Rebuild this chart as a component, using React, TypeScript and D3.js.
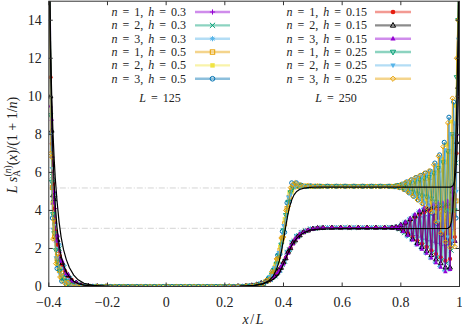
import React from 'react';
import * as d3 from 'd3';

const W = 462;
const H = 329;
const PL = 48.8, PR = 459.5, PT = 1.2, PB = 286.5;
const FONT = "'Liberation Serif', 'DejaVu Serif', serif";
const FS = 14;
const LFS = 12;

const xTicks = [-0.4, -0.2, 0, 0.2, 0.4, 0.6, 0.8, 1];
const xTickLabels = ['−0.4', '−0.2', '0', '0.2', '0.4', '0.6', '0.8', '1'];
const yTicks = [0, 2, 4, 6, 8, 10, 12, 14];
const guideLevels = [5.18, 3.06];

// lattice positions x/L (sampled) for the two system sizes
const xs125 = [
  -0.396, -0.388, -0.38, -0.372, -0.364, -0.356, -0.348, -0.34, -0.328, -0.316, -0.3, -0.28,
  -0.25, -0.22, -0.19, -0.16, -0.13, -0.1, -0.07, -0.04, -0.01, 0.02, 0.05, 0.08, 0.11, 0.14, 0.17, 0.2, 0.23, 0.26,
  0.284, 0.3, 0.316, 0.332, 0.348, 0.356, 0.364, 0.372, 0.38, 0.388, 0.396, 0.404, 0.412, 0.42, 0.428, 0.436, 0.444, 0.452, 0.46, 0.476, 0.492, 0.508, 0.524,
  0.55, 0.58, 0.61, 0.64, 0.67, 0.7, 0.73, 0.76,
  0.78, 0.788, 0.796, 0.804, 0.812, 0.82, 0.828, 0.836, 0.844, 0.852, 0.86, 0.868, 0.876, 0.884, 0.892, 0.9, 0.908, 0.916, 0.924, 0.932, 0.94, 0.948, 0.956, 0.964, 0.972, 0.98, 0.988, 0.996,
];
const xs250 = [
  -0.398, -0.394, -0.39, -0.386, -0.382, -0.376, -0.37, -0.362, -0.354, -0.344, -0.334, -0.322, -0.306, -0.29,
  -0.265, -0.235, -0.205, -0.175, -0.145, -0.115, -0.085, -0.055, -0.025, 0.005, 0.035, 0.065, 0.095, 0.125, 0.155, 0.185, 0.215, 0.245,
  0.272, 0.292, 0.308, 0.324, 0.34, 0.352, 0.36, 0.368, 0.376, 0.384, 0.392, 0.4, 0.408, 0.416, 0.424, 0.432, 0.44, 0.448, 0.456, 0.468, 0.484, 0.5, 0.516, 0.535,
  0.565, 0.595, 0.625, 0.655, 0.685, 0.715, 0.745, 0.77,
  0.784, 0.792, 0.8, 0.808, 0.816, 0.824, 0.832, 0.84, 0.848, 0.856, 0.864, 0.872, 0.88, 0.888, 0.896, 0.904, 0.912, 0.92, 0.928, 0.936, 0.944, 0.952, 0.96, 0.968, 0.976, 0.984, 0.99, 0.995, 0.999,
];

// L = 125
const n1h03 = [
  16, 6.8, 4.1, 2.6, 1.8, 1.25, 0.9, 0.65, 0.4, 0.24, 0.12, 0.05,
  0.02, 0.01, 0, 0, 0, 0, 0, 0, 0, 0, 0, 0, 0, 0, 0, 0, 0.01, 0.02,
  0.04, 0.07, 0.12, 0.2, 0.3, 0.38, 0.48, 0.58, 0.7, 0.88, 1.1, 1.4, 1.75, 2.0, 2.25, 2.45, 2.6, 2.72, 2.82, 2.95, 3.02, 3.06, 3.08,
  3.1, 3.1, 3.1, 3.1, 3.1, 3.1, 3.1, 3.11,
  3.11, 3.07, 3.16, 2.98, 3.27, 2.83, 3.37, 2.77, 3.49, 2.68, 3.61, 2.6, 3.66, 2.49, 3.72, 2.4, 3.77, 2.33, 3.8, 2.27, 3.82, 2.17, 3.9, 2.2, 4.5, 3.0, 8.5, 16,
];
const n2h03 = [
  16, 5.8, 4.6, 2.3, 2.0, 1.05, 1.0, 0.55, 0.43, 0.21, 0.13, 0.05,
  0.02, 0.01, 0, 0, 0, 0, 0, 0, 0, 0, 0, 0, 0, 0, 0, 0, 0.01, 0.02,
  0.04, 0.07, 0.13, 0.19, 0.32, 0.36, 0.51, 0.55, 0.74, 0.83, 1.15, 1.33, 1.8, 1.94, 2.3, 2.4, 2.64, 2.69, 2.85, 2.93, 3.03, 3.05, 3.09,
  3.1, 3.1, 3.11, 3.1, 3.1, 3.11, 3.1, 3.12,
  3.09, 3.14, 3.02, 3.26, 2.82, 3.38, 2.66, 3.54, 2.5, 3.7, 2.36, 3.86, 2.2, 3.96, 2.06, 4.0, 1.8, 4.09, 1.54, 4.12, 1.38, 4.16, 1.22, 4.4, 1.9, 5.5, 6.5, 16,
];
const n3h03 = [
  16, 5.2, 4.9, 2.1, 2.2, 0.95, 1.1, 0.5, 0.46, 0.2, 0.14, 0.05,
  0.02, 0.01, 0, 0, 0, 0, 0, 0, 0, 0, 0, 0, 0, 0, 0, 0, 0.01, 0.02,
  0.04, 0.07, 0.14, 0.18, 0.34, 0.35, 0.53, 0.53, 0.77, 0.8, 1.19, 1.29, 1.84, 1.9, 2.34, 2.37, 2.67, 2.67, 2.87, 2.92, 3.04, 3.05, 3.09,
  3.1, 3.1, 3.1, 3.1, 3.1, 3.1, 3.1, 3.1,
  3.12, 3.05, 3.2, 2.9, 3.38, 2.65, 3.55, 2.45, 3.75, 2.2, 3.95, 2.0, 4.1, 1.75, 4.23, 1.5, 4.32, 1.28, 4.36, 1.05, 4.4, 0.85, 4.5, 0.9, 5.3, 2.8, 8, 16,
];
const n1h05 = [
  16, 5.2, 2.6, 1.45, 0.85, 0.5, 0.3, 0.18, 0.09, 0.04, 0.02, 0.01,
  0, 0, 0, 0, 0, 0, 0, 0, 0, 0, 0, 0, 0, 0, 0, 0, 0, 0,
  0.02, 0.04, 0.08, 0.16, 0.32, 0.47, 0.7, 1.0, 1.4, 1.9, 2.55, 3.3, 4.1, 4.7, 5.08, 5.24, 5.3, 5.31, 5.3, 5.28, 5.27, 5.27, 5.27,
  5.27, 5.27, 5.27, 5.27, 5.27, 5.27, 5.27, 5.27,
  5.25, 5.29, 5.23, 5.34, 5.13, 5.41, 5.0, 5.47, 4.89, 5.54, 4.77, 5.6, 4.66, 5.67, 4.55, 5.73, 4.45, 5.98, 4.13, 6.12, 3.8, 6.55, 3.6, 7.1, 3.47, 7.9, 4.5, 16,
];
const n2h05 = [
  16, 4.4, 3.0, 1.2, 1.05, 0.36, 0.4, 0.12, 0.14, 0.03, 0.04, 0.01,
  0, 0, 0, 0, 0, 0, 0, 0, 0, 0, 0, 0, 0, 0, 0, 0, 0, 0,
  0.02, 0.05, 0.07, 0.2, 0.28, 0.55, 0.62, 1.15, 1.25, 2.1, 2.35, 3.55, 3.9, 4.95, 4.95, 5.4, 5.22, 5.36, 5.25, 5.3, 5.26, 5.28, 5.27,
  5.27, 5.27, 5.27, 5.27, 5.27, 5.27, 5.27, 5.27,
  5.28, 5.26, 5.32, 5.18, 5.41, 5.07, 5.5, 4.92, 5.59, 4.77, 5.67, 4.62, 5.76, 4.47, 5.85, 4.32, 6.05, 3.95, 6.38, 3.49, 6.71, 3.16, 7.47, 2.9, 8.67, 2.8, 9.5, 16,
];
const n3h05 = [
  16, 3.6, 3.3, 0.95, 1.2, 0.28, 0.45, 0.1, 0.15, 0.02, 0.04, 0.01,
  0, 0, 0, 0, 0, 0, 0, 0, 0, 0, 0, 0, 0, 0, 0, 0, 0, 0,
  0.03, 0.03, 0.12, 0.13, 0.42, 0.4, 0.85, 0.85, 1.65, 1.7, 2.9, 2.85, 4.4, 4.45, 5.45, 5.3, 5.45, 5.24, 5.33, 5.26, 5.29, 5.27, 5.27,
  5.27, 5.27, 5.27, 5.27, 5.27, 5.27, 5.27, 5.27,
  5.25, 5.31, 5.2, 5.38, 5.1, 5.5, 4.92, 5.61, 4.74, 5.73, 4.55, 5.84, 4.37, 5.96, 4.18, 6.07, 3.85, 6.49, 3.3, 6.92, 2.73, 7.58, 2.45, 8.9, 2.16, 9.7, 3.6, 16,
];

// L = 250
const n1h015 = [
  16, 11, 7.5, 5.4, 4.1, 2.9, 2.2, 1.6, 1.15, 0.8, 0.55, 0.35, 0.18, 0.08,
  0.04, 0.02, 0.01, 0, 0, 0, 0, 0, 0, 0, 0, 0, 0, 0, 0, 0, 0.01, 0.02,
  0.03, 0.06, 0.1, 0.17, 0.27, 0.37, 0.46, 0.57, 0.7, 0.84, 1.02, 1.25, 1.52, 1.8, 2.05, 2.28, 2.46, 2.6, 2.72, 2.85, 2.96, 3.03, 3.07, 3.09,
  3.1, 3.1, 3.1, 3.1, 3.1, 3.1, 3.1, 3.1,
  3.12, 3.06, 3.21, 2.95, 3.33, 2.8, 3.48, 2.6, 3.63, 2.42, 3.78, 2.25, 3.89, 2.08, 3.98, 1.9, 4.02, 1.71, 4.05, 1.54, 4.08, 1.36, 4.15, 1.45, 4.6, 2.6, 7, 10, 16,
];
const n2h015 = [
  16, 10, 8.2, 4.8, 4.6, 2.6, 2.45, 1.45, 1.25, 0.72, 0.6, 0.32, 0.2, 0.08,
  0.04, 0.02, 0.01, 0, 0, 0, 0, 0, 0, 0, 0, 0, 0, 0, 0, 0, 0.01, 0.02,
  0.03, 0.06, 0.1, 0.18, 0.26, 0.38, 0.45, 0.59, 0.68, 0.87, 0.99, 1.28, 1.49, 1.83, 2.02, 2.31, 2.43, 2.62, 2.7, 2.86, 2.95, 3.04, 3.07, 3.09,
  3.1, 3.1, 3.1, 3.1, 3.1, 3.1, 3.1, 3.1,
  3.13, 3.05, 3.24, 2.92, 3.37, 2.74, 3.55, 2.5, 3.73, 2.29, 3.91, 2.08, 4.05, 1.88, 4.15, 1.66, 4.21, 1.43, 4.24, 1.23, 4.27, 1.01, 4.36, 1.0, 5.0, 2.4, 7.6, 10.5, 16,
];
const n3h015 = [
  16, 9.5, 8.8, 4.4, 5.0, 2.4, 2.7, 1.35, 1.35, 0.68, 0.64, 0.3, 0.21, 0.07,
  0.04, 0.02, 0.01, 0, 0, 0, 0, 0, 0, 0, 0, 0, 0, 0, 0, 0, 0.01, 0.02,
  0.03, 0.06, 0.11, 0.16, 0.29, 0.35, 0.48, 0.55, 0.73, 0.81, 1.06, 1.2, 1.56, 1.76, 2.1, 2.24, 2.5, 2.57, 2.75, 2.84, 2.97, 3.03, 3.08, 3.09,
  3.1, 3.1, 3.1, 3.1, 3.1, 3.1, 3.1, 3.1,
  3.13, 3.05, 3.25, 2.9, 3.4, 2.7, 3.6, 2.45, 3.8, 2.2, 4.0, 1.97, 4.15, 1.75, 4.27, 1.5, 4.33, 1.25, 4.37, 1.02, 4.4, 0.78, 4.5, 0.9, 5.2, 2.4, 8, 11, 16,
];
const n1h025 = [
  16, 9, 5.5, 3.8, 2.8, 1.9, 1.3, 0.8, 0.5, 0.28, 0.15, 0.07, 0.03, 0.01,
  0, 0, 0, 0, 0, 0, 0, 0, 0, 0, 0, 0, 0, 0, 0, 0, 0, 0,
  0.01, 0.03, 0.06, 0.13, 0.26, 0.45, 0.63, 0.88, 1.2, 1.62, 2.2, 2.95, 3.75, 4.45, 4.95, 5.2, 5.29, 5.31, 5.3, 5.28, 5.27, 5.27, 5.27, 5.27,
  5.27, 5.27, 5.27, 5.27, 5.27, 5.27, 5.27, 5.27,
  5.29, 5.24, 5.32, 5.18, 5.4, 5.08, 5.47, 4.97, 5.54, 4.88, 5.61, 4.78, 5.68, 4.72, 5.75, 4.62, 5.95, 4.45, 6.22, 4.27, 6.52, 4.0, 7.1, 3.95, 8.0, 4.0, 11, 14, 16,
];
const n2h025 = [
  16, 8, 6.2, 3.0, 3.2, 1.5, 1.5, 0.62, 0.6, 0.2, 0.19, 0.05, 0.04, 0.01,
  0, 0, 0, 0, 0, 0, 0, 0, 0, 0, 0, 0, 0, 0, 0, 0, 0, 0,
  0.01, 0.04, 0.05, 0.16, 0.22, 0.52, 0.58, 0.98, 1.1, 1.78, 2.0, 3.2, 3.5, 4.7, 4.8, 5.35, 5.22, 5.38, 5.25, 5.3, 5.26, 5.28, 5.27, 5.27,
  5.27, 5.27, 5.27, 5.27, 5.27, 5.27, 5.27, 5.27,
  5.25, 5.31, 5.19, 5.4, 5.08, 5.5, 4.92, 5.6, 4.75, 5.69, 4.58, 5.79, 4.4, 5.89, 4.23, 6.05, 3.92, 6.41, 3.43, 6.8, 2.92, 7.19, 2.6, 8.0, 2.4, 8.6, 5, 13, 16,
];
const n3h025 = [
  16, 7, 6.8, 2.5, 3.5, 1.2, 1.7, 0.5, 0.7, 0.15, 0.22, 0.04, 0.05, 0.01,
  0, 0, 0, 0, 0, 0, 0, 0, 0, 0, 0, 0, 0, 0, 0, 0, 0, 0,
  0.02, 0.02, 0.08, 0.1, 0.32, 0.38, 0.78, 0.78, 1.45, 1.5, 2.55, 2.6, 4.0, 4.2, 5.2, 5.35, 5.45, 5.25, 5.35, 5.25, 5.3, 5.27, 5.28, 5.27,
  5.27, 5.27, 5.27, 5.27, 5.27, 5.27, 5.27, 5.27,
  5.3, 5.22, 5.36, 5.12, 5.48, 4.96, 5.6, 4.76, 5.72, 4.55, 5.84, 4.35, 5.96, 4.15, 6.08, 3.92, 6.4, 3.4, 6.85, 2.8, 7.35, 2.35, 8.6, 2.05, 9.9, 2.1, 12, 14, 16,
];

// smooth black curves
const thUpperX = [
  -0.397, -0.394, -0.39, -0.386, -0.382, -0.378, -0.372, -0.365, -0.358, -0.35,
  -0.34, -0.33, -0.315, -0.3, -0.28, -0.25, -0.2, 0, 0.25, 0.3,
  0.33, 0.35, 0.365, 0.375, 0.385, 0.393, 0.4, 0.407, 0.414, 0.42,
  0.428, 0.436, 0.445, 0.455, 0.47, 0.49, 0.52, 0.6, 0.8, 0.97,
  0.978, 0.983, 0.987, 0.991, 0.994, 0.997, 0.999,
];
const thUpper = [
  15.5, 12, 9.2, 7.1, 5.5, 4.3, 3.1, 2.2, 1.6, 1.15,
  0.75, 0.5, 0.28, 0.15, 0.07, 0.02, 0.005, 0, 0.005, 0.05,
  0.15, 0.3, 0.55, 0.85, 1.3, 1.85, 2.45, 3.1, 3.7, 4.15,
  4.55, 4.82, 5.0, 5.1, 5.17, 5.21, 5.23, 5.23, 5.23, 5.23,
  5.3, 5.5, 6.0, 7.0, 8.5, 11, 16,
];
const thLowerX = [
  -0.397, -0.394, -0.39, -0.386, -0.382, -0.378, -0.372, -0.365, -0.358, -0.35,
  -0.34, -0.33, -0.315, -0.3, -0.28, -0.25, -0.2, 0, 0.25, 0.3,
  0.33, 0.35, 0.365, 0.375, 0.385, 0.393, 0.4, 0.407, 0.414, 0.42,
  0.428, 0.436, 0.445, 0.455, 0.47, 0.49, 0.52, 0.6, 0.8, 0.96,
  0.968, 0.973, 0.977, 0.981, 0.985, 0.99, 0.995, 0.998,
];
const thLower = [
  15.5, 12.5, 10, 8.2, 6.8, 5.7, 4.5, 3.4, 2.6, 1.95,
  1.4, 1.0, 0.6, 0.35, 0.17, 0.06, 0.01, 0, 0.01, 0.06,
  0.14, 0.25, 0.38, 0.5, 0.68, 0.95, 1.2, 1.45, 1.7, 1.92,
  2.15, 2.35, 2.53, 2.68, 2.83, 2.96, 3.02, 3.04, 3.04, 3.05,
  3.15, 3.45, 4.0, 5.0, 6.5, 9, 13, 16,
];

const series = [
  { n: 1, h: '0.3', color: '#9400d3', mark: 'plus', xs: xs125, ys: n1h03 },
  { n: 2, h: '0.3', color: '#009e73', mark: 'cross', xs: xs125, ys: n2h03 },
  { n: 3, h: '0.3', color: '#56b4e9', mark: 'star', xs: xs125, ys: n3h03 },
  { n: 1, h: '0.5', color: '#e69f00', mark: 'sqOpen', xs: xs125, ys: n1h05 },
  { n: 2, h: '0.5', color: '#f0e442', mark: 'sqFill', xs: xs125, ys: n2h05 },
  { n: 3, h: '0.5', color: '#0072b2', mark: 'circOpen', xs: xs125, ys: n3h05 },
  { n: 1, h: '0.15', color: '#e51e10', mark: 'circFill', xs: xs250, ys: n1h015 },
  { n: 2, h: '0.15', color: '#000000', mark: 'triOpen', xs: xs250, ys: n2h015 },
  { n: 3, h: '0.15', color: '#9400d3', mark: 'triFill', xs: xs250, ys: n3h015 },
  { n: 1, h: '0.25', color: '#009e73', mark: 'triDownOpen', xs: xs250, ys: n1h025 },
  { n: 2, h: '0.25', color: '#56b4e9', mark: 'triDownFill', xs: xs250, ys: n2h025 },
  { n: 3, h: '0.25', color: '#e69f00', mark: 'diamondOpen', xs: xs250, ys: n3h025 },
];

const x = d3.scaleLinear().domain([-0.4, 1]).range([PL, PR]);
const y = d3.scaleLinear().domain([0, 15]).range([PB, PT]);

function marker(type: string, cx: number, cy: number, color: string, s: number, key: any) {
  const st = { stroke: color, strokeWidth: 1, fill: 'none' };
  const fl = { fill: color, stroke: 'none' };
  switch (type) {
    case 'plus':
      return <path key={key} d={`M${cx - s},${cy}H${cx + s}M${cx},${cy - s}V${cy + s}`} {...st} />;
    case 'cross':
      return <path key={key} d={`M${cx - s},${cy - s}L${cx + s},${cy + s}M${cx - s},${cy + s}L${cx + s},${cy - s}`} {...st} />;
    case 'star': {
      const k = s * 0.75;
      return <path key={key} d={`M${cx - s},${cy}H${cx + s}M${cx},${cy - s}V${cy + s}M${cx - k},${cy - k}L${cx + k},${cy + k}M${cx - k},${cy + k}L${cx + k},${cy - k}`} {...st} />;
    }
    case 'sqOpen':
      return <rect key={key} x={cx - s * 0.85} y={cy - s * 0.85} width={s * 1.7} height={s * 1.7} {...st} />;
    case 'sqFill':
      return <rect key={key} x={cx - s * 0.85} y={cy - s * 0.85} width={s * 1.7} height={s * 1.7} {...fl} />;
    case 'circOpen':
      return <circle key={key} cx={cx} cy={cy} r={s * 0.9} {...st} />;
    case 'circFill':
      return <circle key={key} cx={cx} cy={cy} r={s * 0.9} {...fl} />;
    case 'triOpen':
    case 'triFill': {
      const d = `M${cx},${cy - s * 1.1}L${cx - s},${cy + s * 0.7}L${cx + s},${cy + s * 0.7}Z`;
      return <path key={key} d={d} {...(type === 'triOpen' ? st : fl)} />;
    }
    case 'triDownOpen':
    case 'triDownFill': {
      const d = `M${cx},${cy + s * 1.1}L${cx - s},${cy - s * 0.7}L${cx + s},${cy - s * 0.7}Z`;
      return <path key={key} d={d} {...(type === 'triDownOpen' ? st : fl)} />;
    }
    default:
      return <path key={key} d={`M${cx},${cy - s}L${cx + s},${cy}L${cx},${cy + s}L${cx - s},${cy}Z`} {...st} />;
  }
}

// rough Times-like advance widths (em) to lay out mixed italic/upright runs
const upW: Record<string, number> = { ',': 0.25, '.': 0.25, '=': 0.564, '/': 0.278 };
const itW: Record<string, number> = { n: 0.5, h: 0.5, L: 0.556, x: 0.444 };
const runWidth = (t: string, it: boolean, fs: number) =>
  [...t].reduce((a, c) => a + (it ? itW[c] ?? 0.5 : upW[c] ?? 0.5), 0) * fs;

type Part = { t: string; it?: boolean; gap?: number };

const MathText = ({ x0, y0, anchor, parts, fs }: { x0: number; y0: number; anchor: string; parts: Part[]; fs: number }) => {
  const widths = parts.map((p) => runWidth(p.t, !!p.it, fs));
  const total = widths.reduce((a, w, i) => a + w + (i < parts.length - 1 ? parts[i].gap ?? 0 : 0), 0);
  let cx = anchor === 'end' ? x0 - total : anchor === 'middle' ? x0 - total / 2 : x0;
  return (
    <g>
      {parts.map((p, i) => {
        const el = (
          <text key={i} x={cx} y={y0} fontFamily={FONT} fontSize={fs} fontStyle={p.it ? 'italic' : 'normal'} fill="#222">
            {p.t}
          </text>
        );
        cx += widths[i] + (p.gap ?? 0);
        return el;
      })}
    </g>
  );
};

const LegendRow = ({ s, i, tx, lx0, lx1 }: any) => {
  const cy = 12 + i * 13.35;
  return (
    <g>
      <MathText
        x0={tx}
        y0={cy + 4}
        anchor="end"
        fs={LFS}
        parts={[
          { t: 'n', it: true, gap: 5 },
          { t: '=', gap: 5 },
          { t: `${s.n},`, gap: 5 },
          { t: 'h', it: true, gap: 5 },
          { t: '=', gap: 5 },
          { t: s.h },
        ]}
      />
      <line x1={lx0} x2={lx1} y1={cy} y2={cy} stroke={s.color} strokeOpacity={0.45} strokeWidth={2.4} />
      {marker(s.mark, (lx0 + lx1) / 2, cy, s.color, 2.6, 'm')}
    </g>
  );
};

export default function App() {
  const line = (xs: number[]) =>
    d3.line<number>().x((_, i) => x(xs[i])).y((d) => y(d));

  return (
    <svg width={W} height={H} style={{ position: 'absolute', left: 0, top: 0, background: '#fff' }}>
      <defs>
        <clipPath id="plot">
          <rect x={PL} y={PT} width={PR - PL} height={PB - PT} />
        </clipPath>
      </defs>
      <rect width={W} height={H} fill="#fff" />

      {guideLevels.map((v) => (
        <line key={v} x1={PL} x2={PR} y1={y(v)} y2={y(v)} stroke="#c8c8c8" strokeWidth={0.8} strokeDasharray="6 2 1 2" />
      ))}

      <g clipPath="url(#plot)">
        {series.map((s, si) => (
          <g key={si}>
            <path d={line(s.xs)(s.ys) || ''} fill="none" stroke={s.color} strokeOpacity={0.65} strokeWidth={1} />
            {s.ys.map((v, i) => marker(s.mark, x(s.xs[i]), y(v), s.color, 2.3, i))}
          </g>
        ))}
        <path d={line(thUpperX)(thUpper) || ''} fill="none" stroke="#000" strokeWidth={1.2} />
        <path d={line(thLowerX)(thLower) || ''} fill="none" stroke="#000" strokeWidth={1.2} />
      </g>

      {/* frame and ticks */}
      <rect x={PL} y={PT} width={PR - PL} height={PB - PT} fill="none" stroke="#333" strokeWidth={1} />
      {xTicks.map((t, i) => (
        <g key={`x${i}`}>
          <line x1={x(t)} x2={x(t)} y1={PB} y2={PB - 4} stroke="#333" />
          <line x1={x(t)} x2={x(t)} y1={PT} y2={PT + 4} stroke="#333" />
          <text x={x(t)} y={PB + 20} textAnchor="middle" fontFamily={FONT} fontSize={FS} fill="#222">{xTickLabels[i]}</text>
        </g>
      ))}
      {yTicks.map((t) => (
        <g key={`y${t}`}>
          <line x1={PL} x2={PL + 4} y1={y(t)} y2={y(t)} stroke="#333" />
          <line x1={PR} x2={PR - 4} y1={y(t)} y2={y(t)} stroke="#333" />
          <text x={PL - 7} y={y(t) + 4.5} textAnchor="end" fontFamily={FONT} fontSize={FS} fill="#222">{t}</text>
        </g>
      ))}

      {/* legends */}
      {series.slice(0, 6).map((s, i) => (
        <LegendRow key={`l${i}`} s={s} i={i} tx={186} lx0={195} lx1={230} />
      ))}
      {series.slice(6).map((s, i) => (
        <LegendRow key={`r${i}`} s={s} i={i} tx={367} lx0={375} lx1={411} />
      ))}
      <MathText x0={160} y0={101.5} anchor="middle" fs={LFS} parts={[{ t: 'L', it: true, gap: 5 }, { t: '=', gap: 5 }, { t: '125' }]} />
      <MathText x0={336} y0={101.5} anchor="middle" fs={LFS} parts={[{ t: 'L', it: true, gap: 5 }, { t: '=', gap: 5 }, { t: '250' }]} />

      {/* axis titles */}
      <MathText x0={253} y0={324} anchor="middle" fs={FS} parts={[{ t: 'x', it: true, gap: 1.5 }, { t: '/', gap: 1.5 }, { t: 'L', it: true }]} />
      <text transform="translate(17,145) rotate(-90)" textAnchor="middle" fontFamily={FONT} fontSize={FS} fill="#222" style={{ whiteSpace: 'pre' }}>
        <tspan fontStyle="italic">L s</tspan>
        <tspan fontSize={9.5} dy={3}>A</tspan>
        <tspan fontSize={9.5} dx={-6.5} dy={-9}>(</tspan>
        <tspan fontSize={9.5} fontStyle="italic">n</tspan>
        <tspan fontSize={9.5}>)</tspan>
        <tspan dy={6}>(</tspan>
        <tspan fontStyle="italic">x</tspan>
        <tspan>{')/(1 + 1/'}</tspan>
        <tspan fontStyle="italic">n</tspan>
        <tspan>)</tspan>
      </text>
    </svg>
  );
}
